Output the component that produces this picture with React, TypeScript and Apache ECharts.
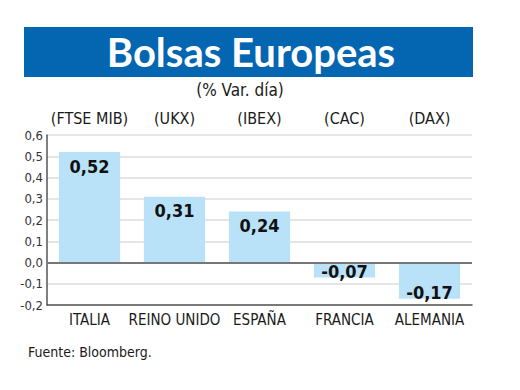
import React, { useEffect, useRef } from "react";
import * as echarts from "echarts";

const countries = ["ITALIA", "REINO UNIDO", "ESPAÑA", "FRANCIA", "ALEMANIA"];
const tickers = ["(FTSE MIB)", "(UKX)", "(IBEX)", "(CAC)", "(DAX)"];
const values = [0.52, 0.31, 0.24, -0.07, -0.17];
const titleText = "Bolsas Europeas";
const subtitleText = "(% Var. día)";
const sourceText = "Fuente: Bloomberg.";

const NARROW = "'Liberation Sans Narrow', 'DejaVu Sans Condensed', Roboto, sans-serif";
const fmt = (v: number) => v.toFixed(2).replace(".", ",");

export default function App() {
  const ref = useRef<HTMLDivElement>(null);
  useEffect(() => {
    if (!ref.current) return;
    const chart = echarts.init(ref.current, undefined, { renderer: "svg" });
    chart.setOption({
      animation: false,
      backgroundColor: "#ffffff",
      grid: { left: 47, right: 48, top: 135, bottom: 85 },
      graphic: [
        { type: "rect", shape: { x: 24, y: 27, width: 449, height: 50 }, style: { fill: "#0466b0" } },
        {
          type: "text",
          x: 251,
          y: 52,
          style: {
            text: titleText,
            fill: "#ffffff",
            font: "bold 40px Lato, 'Open Sans', sans-serif",
            textAlign: "center",
            textVerticalAlign: "middle",
          },
        },
        {
          type: "text",
          x: 240,
          y: 90,
          style: {
            text: subtitleText,
            fill: "#1a1a1a",
            font: "17px " + NARROW,
            textAlign: "center",
            textVerticalAlign: "middle",
          },
        },
        {
          type: "text",
          x: 28,
          y: 352,
          style: {
            text: sourceText,
            fill: "#1a1a1a",
            font: "14px " + NARROW,
            textAlign: "left",
            textVerticalAlign: "middle",
          },
        },
      ],
      xAxis: [
        {
          type: "category",
          data: countries,
          position: "bottom",
          axisLine: { onZero: false, lineStyle: { color: "#555555", width: 1.5 } },
          axisTick: { show: false },
          axisLabel: { color: "#1a1a1a", fontFamily: NARROW, fontSize: 15, margin: 7, interval: 0 },
        },
        {
          type: "category",
          data: tickers,
          position: "top",
          axisLine: { show: false },
          axisTick: { show: false },
          axisLabel: { color: "#1a1a1a", fontFamily: NARROW, fontSize: 16, margin: 9, interval: 0 },
        },
      ],
      yAxis: {
        type: "value",
        min: -0.2,
        max: 0.6,
        interval: 0.1,
        axisLine: { show: true, lineStyle: { color: "#555555", width: 1.5 } },
        axisTick: { show: false },
        splitLine: { lineStyle: { color: "#dddddd", width: 1.5 } },
        axisLabel: {
          color: "#333333",
          fontFamily: NARROW,
          fontSize: 13,
          margin: 4,
          formatter: (v: number) => (Math.round(v * 10) / 10).toFixed(1).replace(".", ",").replace("-0,0", "0,0"),
        },
      },
      series: [
        {
          type: "bar",
          data: values.map((v) => ({
            value: v,
            label: {
              show: true,
              position: v >= 0 ? "insideTop" : "insideBottom",
              distance: v >= 0 ? 5 : -3,
            },
          })),
          barWidth: "72%",
          itemStyle: { color: "#b9e2f8" },
          label: {
            color: "#111111",
            fontFamily: NARROW,
            fontWeight: "bold",
            fontSize: 18,
            formatter: (p: any) => fmt(p.value),
          },
          markLine: {
            silent: true,
            symbol: "none",
            label: { show: false },
            lineStyle: { color: "#777777", type: "solid", width: 2 },
            data: [{ yAxis: 0 }],
          },
        },
      ],
    });
    return () => chart.dispose();
  }, []);
  return <div ref={ref} style={{ position: "fixed", left: 0, top: 0, width: 520, height: 390 }} />;
}
